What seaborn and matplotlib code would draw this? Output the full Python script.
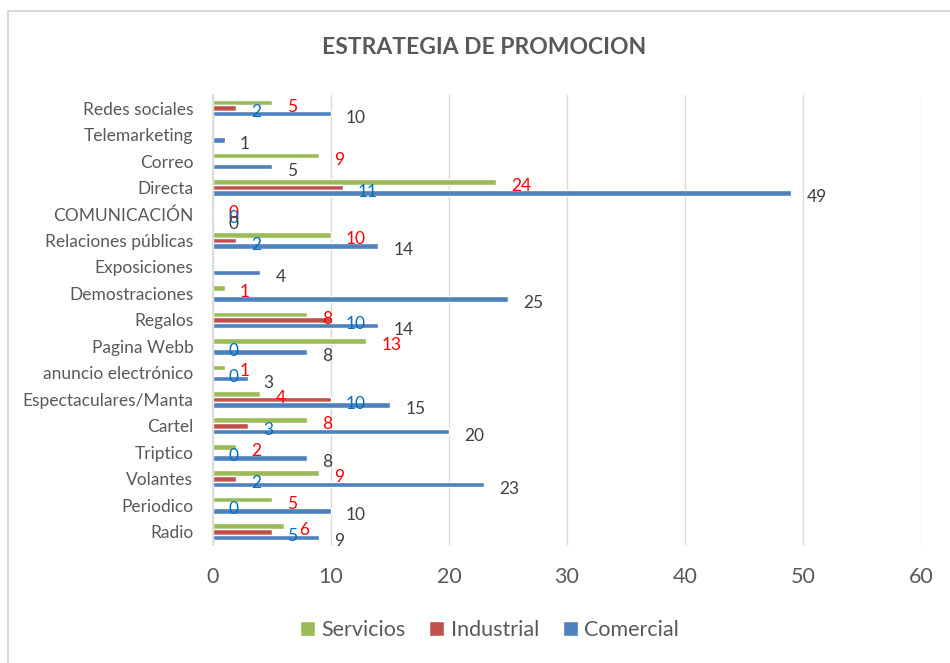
import numpy as np
import pandas as pd
import matplotlib
matplotlib.use('Agg')
import matplotlib.pyplot as plt
import seaborn as sns
from matplotlib.patches import Patch
from matplotlib.lines import Line2D

categorias = ['Redes sociales', 'Telemarketing', 'Correo', 'Directa', 'COMUNICACIÓN',
              'Relaciones públicas', 'Exposiciones', 'Demostraciones', 'Regalos',
              'Pagina Webb', 'anuncio electrónico', 'Espectaculares/Manta', 'Cartel',
              'Triptico', 'Volantes', 'Periodico', 'Radio']
servicios = [5, np.nan, 9, 24, 0, 10, np.nan, 1, 8, 13, 1, 4, 8, 2, 9, 5, 6]
industrial = [2, np.nan, np.nan, 11, 0, 2, np.nan, np.nan, 10, 0, 0, 10, 3, 0, 2, 0, 5]
comercial = [10, 1, 5, 49, 0, 14, 4, 25, 14, 8, 3, 15, 20, 8, 23, 10, 9]
series = ['Servicios', 'Industrial', 'Comercial']
x_ticks = [0, 10, 20, 30, 40, 50, 60]

colores = {'Servicios': '#9BBB59', 'Industrial': '#C0504D', 'Comercial': '#4F81BD'}
# colores de las etiquetas (el original las tiene desplazadas de serie)
colores_etiqueta = ['#FF0000', '#0070C0', '#404040']

sns.set_theme(style='white')
plt.rcParams['font.family'] = ['Lato', 'DejaVu Sans']
TXT = '#595959'

df = pd.DataFrame({
    'Categoria': categorias * 3,
    'Serie': [s for s in series for _ in categorias],
    'Valor': servicios + industrial + comercial,
})

fig = plt.figure(figsize=(9.5, 6.63), dpi=100)
ax = fig.add_axes([0.224, 0.178, 0.7455, 0.679])

ancho = 0.63
sns.barplot(data=df, y='Categoria', x='Valor', hue='Serie', order=categorias,
            hue_order=series, palette=colores, orient='h', width=ancho,
            errorbar=None, ax=ax, saturation=1, legend=False)

# etiquetas de datos
paso = ancho / 3
for j, valores in enumerate([servicios, industrial, comercial]):
    for i, v in enumerate(valores):
        if np.isnan(v):
            continue
        y = i + (j - 1) * paso
        ax.annotate(f'{int(v)}', xy=(v, y), xytext=(11, -3), textcoords='offset points',
                    ha='left', va='center', fontsize=12.5, color=colores_etiqueta[j])

ax.set_xlim(0, 60)
ax.set_xticks(x_ticks)
ax.set_xticklabels([str(t) for t in x_ticks], fontsize=15.5, color=TXT)
ax.tick_params(axis='y', labelsize=12.5, labelcolor=TXT, length=0, pad=14)
ax.tick_params(axis='x', length=0, pad=16)
ax.set_xlabel('')
ax.set_ylabel('')
ax.grid(axis='x', color='#D9D9D9', linewidth=1)
ax.set_axisbelow(True)
for s in ['top', 'right', 'bottom']:
    ax.spines[s].set_visible(False)
ax.spines['left'].set_color('#D9D9D9')

handles = [Patch(facecolor=colores[s], label=s) for s in series]
leg = fig.legend(handles=handles, loc='center', bbox_to_anchor=(0.515, 0.05), ncol=3,
                 frameon=False, fontsize=15.5, handlelength=0.7, handleheight=0.7,
                 columnspacing=1.1, handletextpad=0.3)
for t in leg.get_texts():
    t.set_color(TXT)

fig.text(0.51, 0.928, 'ESTRATEGIA DE PROMOCION', ha='center', va='center',
         fontsize=16.5, fontweight='bold', color=TXT)

# borde del area del grafico (solo se ven izquierda y arriba)
borde = dict(color='#D9D9D9', linewidth=1.5, transform=fig.transFigure)
fig.lines.append(Line2D([0.0085, 0.0085], [0, 0.984], **borde))
fig.lines.append(Line2D([0.0085, 1], [0.984, 0.984], **borde))

plt.savefig('out.png', dpi=100)
plt.close()
